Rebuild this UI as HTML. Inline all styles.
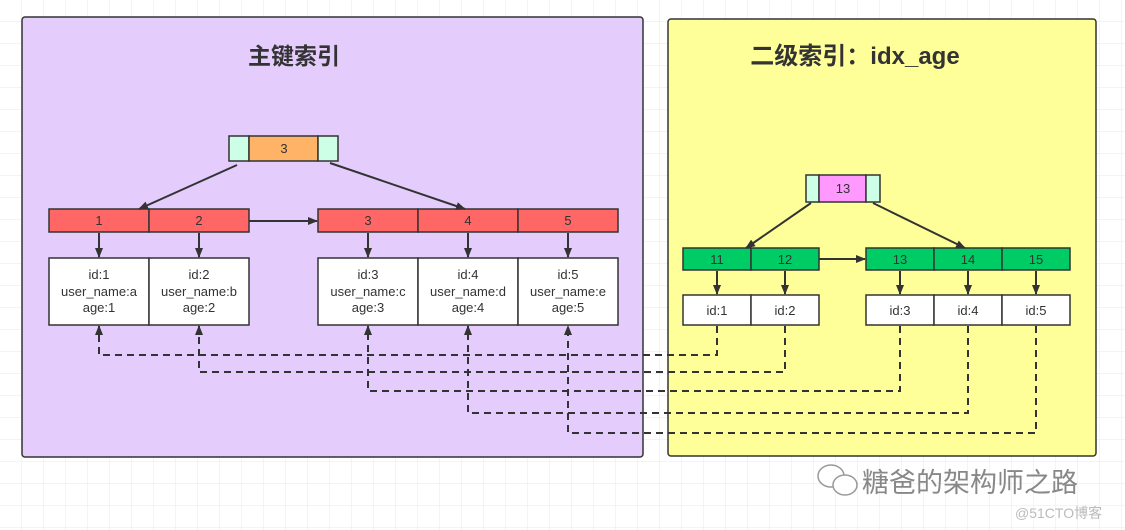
<!DOCTYPE html>
<html><head><meta charset="utf-8"><style>
html,body{margin:0;padding:0;background:#fff}
svg{display:block}
text{font-family:"Liberation Sans","Noto Sans CJK SC",sans-serif;fill:#333}
</style></head><body>
<svg width="1125" height="530" viewBox="0 0 1125 530" xmlns="http://www.w3.org/2000/svg">
<defs>
<pattern id="g" width="22" height="22" patternUnits="userSpaceOnUse"><path d="M22 0V22H0" fill="none" stroke="#e8e8e8" stroke-width="1"/></pattern>
<marker id="a" markerWidth="10" markerHeight="10" refX="9" refY="5" orient="auto" markerUnits="userSpaceOnUse"><path d="M0,1 L10,5 L0,9 Z" fill="#333"/></marker>
</defs>
<rect width="1125" height="530" fill="url(#g)"/>
<rect x="22" y="17" width="621" height="440" rx="3" fill="#e4ccfd" stroke="#333" stroke-width="1.5"/>
<rect x="668" y="19" width="428" height="437" rx="3" fill="#ffff99" stroke="#333" stroke-width="1.5"/>
<text x="294" y="64" font-size="23" font-weight="bold" text-anchor="middle">主键索引</text>
<text x="855" y="64" font-size="24" font-weight="bold" text-anchor="middle">二级索引：idx_age</text>

<g stroke="#333" stroke-width="1.5">
<rect x="229" y="136" width="20" height="25" fill="#ccffe6"/>
<rect x="249" y="136" width="69" height="25" fill="#ffb366"/>
<rect x="318" y="136" width="20" height="25" fill="#ccffe6"/>
<g fill="#ff6666">
<rect x="49" y="209" width="100" height="23"/><rect x="149" y="209" width="100" height="23"/>
<rect x="318" y="209" width="100" height="23"/><rect x="418" y="209" width="100" height="23"/><rect x="518" y="209" width="100" height="23"/>
</g>
<g fill="#fff">
<rect x="49" y="258" width="100" height="67"/><rect x="149" y="258" width="100" height="67"/>
<rect x="318" y="258" width="100" height="67"/><rect x="418" y="258" width="100" height="67"/><rect x="518" y="258" width="100" height="67"/>
</g>
<rect x="806" y="175" width="13" height="27" fill="#ccffe6"/>
<rect x="819" y="175" width="47" height="27" fill="#ff99ff"/>
<rect x="866" y="175" width="14" height="27" fill="#ccffe6"/>
<g fill="#00cc66">
<rect x="683" y="248" width="68" height="22"/><rect x="751" y="248" width="68" height="22"/>
<rect x="866" y="248" width="68" height="22"/><rect x="934" y="248" width="68" height="22"/><rect x="1002" y="248" width="68" height="22"/>
</g>
<g fill="#fff">
<rect x="683" y="295" width="68" height="30"/><rect x="751" y="295" width="68" height="30"/>
<rect x="866" y="295" width="68" height="30"/><rect x="934" y="295" width="68" height="30"/><rect x="1002" y="295" width="68" height="30"/>
</g>
</g>

<g stroke="#333" stroke-width="2" fill="none" marker-end="url(#a)">
<line x1="237" y1="165" x2="139" y2="209"/>
<line x1="330" y1="163" x2="465" y2="209"/>
<line x1="249" y1="221" x2="317" y2="221"/>
<line x1="99" y1="233" x2="99" y2="257"/><line x1="199" y1="233" x2="199" y2="257"/>
<line x1="368" y1="233" x2="368" y2="257"/><line x1="468" y1="233" x2="468" y2="257"/><line x1="568" y1="233" x2="568" y2="257"/>
<line x1="811" y1="203" x2="746" y2="248"/>
<line x1="873" y1="203" x2="965" y2="248"/>
<line x1="819" y1="259" x2="865" y2="259"/>
<line x1="717" y1="271" x2="717" y2="294"/><line x1="785" y1="271" x2="785" y2="294"/>
<line x1="900" y1="271" x2="900" y2="294"/><line x1="968" y1="271" x2="968" y2="294"/><line x1="1036" y1="271" x2="1036" y2="294"/>
</g>
<g stroke="#333" stroke-width="2" fill="none" stroke-dasharray="7,5" marker-end="url(#a)">
<path d="M717 326 V355 H99 V326"/>
<path d="M785 326 V372 H199 V326"/>
<path d="M900 326 V391 H368 V326"/>
<path d="M968 326 V413 H468 V326"/>
<path d="M1036 326 V433 H568 V326"/>
</g>

<g font-size="13" text-anchor="middle">
<text x="284" y="153">3</text>
<text x="99" y="225">1</text><text x="199" y="225">2</text>
<text x="368" y="225">3</text><text x="468" y="225">4</text><text x="568" y="225">5</text>
<text x="99" y="279">id:1</text><text x="99" y="296">user_name:a</text><text x="99" y="312">age:1</text>
<text x="199" y="279">id:2</text><text x="199" y="296">user_name:b</text><text x="199" y="312">age:2</text>
<text x="368" y="279">id:3</text><text x="368" y="296">user_name:c</text><text x="368" y="312">age:3</text>
<text x="468" y="279">id:4</text><text x="468" y="296">user_name:d</text><text x="468" y="312">age:4</text>
<text x="568" y="279">id:5</text><text x="568" y="296">user_name:e</text><text x="568" y="312">age:5</text>
<text x="843" y="193">13</text>
<text x="717" y="264">11</text><text x="785" y="264">12</text>
<text x="900" y="264">13</text><text x="968" y="264">14</text><text x="1036" y="264">15</text>
<text x="717" y="315">id:1</text><text x="785" y="315">id:2</text>
<text x="900" y="315">id:3</text><text x="968" y="315">id:4</text><text x="1036" y="315">id:5</text>
</g>
<g fill="#fff" stroke="#999" stroke-width="1.5">
<ellipse cx="831" cy="476" rx="13" ry="11"/><ellipse cx="845" cy="485" rx="12" ry="10"/>
</g>
<text x="862" y="492" font-size="27" style="fill:#888">糖爸的架构师之路</text>
<text x="1015" y="518" font-size="14" style="fill:#bbb">@51CTO博客</text>
</svg>
</body></html>
